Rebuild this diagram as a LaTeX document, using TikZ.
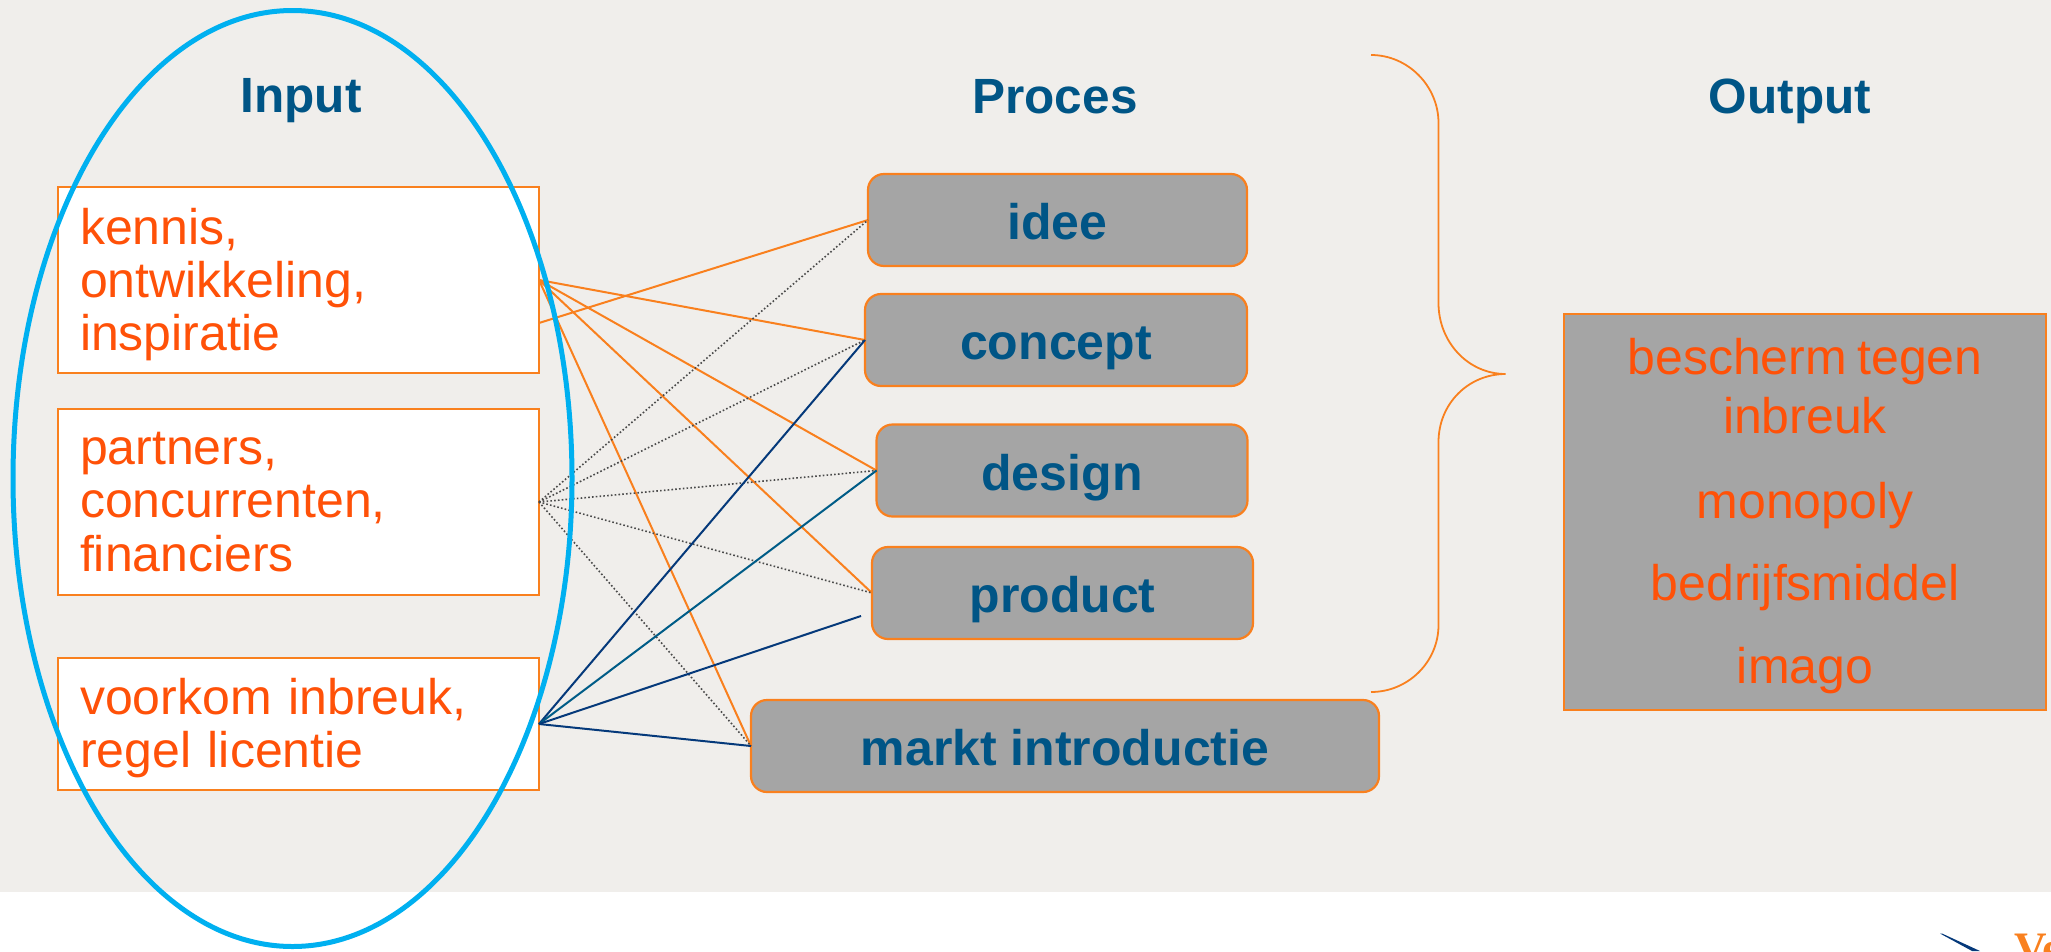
\documentclass[tikz,border=0pt]{standalone}
\usepackage{fontspec}
\usetikzlibrary{shapes.geometric}
\setmainfont{Liberation Sans}
\newfontfamily\logofont{Liberation Serif}
\definecolor{bgc}{HTML}{F0EEEB}
\definecolor{lineor}{HTML}{F9801E}
\definecolor{textor}{HTML}{FF5108}
\definecolor{titleb}{HTML}{005586}
\definecolor{navyl}{HTML}{05397A}
\definecolor{teall}{HTML}{005C87}
\definecolor{boxg}{HTML}{A5A5A5}
\definecolor{skyb}{HTML}{00B0F0}
\definecolor{dotg}{HTML}{4A4A4A}
\newcommand{\bodyfont}{\fontsize{50}{53.3}\selectfont\spaceskip=10.5pt\relax}
\newcommand{\firststrut}{\rule{0pt}{45pt}}
\tikzset{
  x=1pt,y=-1pt,
  inbox/.style={draw=lineor,line width=1.8pt,fill=white,inner sep=0pt,outer sep=0pt,text=textor,minimum width=481,align=left,text width=437,font=\bodyfont},
  procbox/.style={draw=lineor,line width=2.2pt,fill=boxg,rounded corners=16,inner sep=0pt,outer sep=0pt,text=titleb,font=\fontsize{50}{53.3}\selectfont\bfseries,minimum height=92,text height=39.5pt,text depth=0pt},
  outbox/.style={draw=lineor,line width=2pt,fill=boxg,inner sep=0pt,outer sep=0pt,text=textor,font=\bodyfont,align=center},
  titletext/.style={text=titleb,font=\fontsize{49.5}{53}\selectfont\bfseries,inner sep=0pt,anchor=base},
  orline/.style={draw=lineor,line width=2pt},
  dotline/.style={draw=dotg,line width=1.6pt,dash pattern=on 1.6pt off 2.2pt},
  navyline/.style={draw=navyl,line width=2pt},
  tealline/.style={draw=teall,line width=2pt},
}
\begin{document}
\begin{tikzpicture}
\clip (0,0) rectangle (2051,951);
\fill[white] (0,0) rectangle (2051,951);
\fill[bgc] (0,0) rectangle (2051,892);

% logo, cut off by the page edge
\node[text=lineor,font=\fontsize{45}{45}\selectfont\logofont\bfseries,inner sep=0pt,anchor=base west] (logo) at (2014,963) {Ve};
\fill[navyl] (1940,933.5) -- (1942,933.5) -- (1980,951) -- (1972,951) -- cycle;

% titles
\node[titletext] (tinput) at (301,112) {Input};
\node[titletext] (tproces) at (1055,113) {Proces};
\node[titletext] (toutput) at (1790,113) {Output};

% input boxes
\node[inbox,minimum height=186] (in1) at (298.5,280) {\firststrut kennis,\\ontwikkeling,\\inspiratie};
\node[inbox,minimum height=186] (in2) at (298.5,502) {partners,\\concurrenten,\\financiers};
\node[inbox,minimum height=132] (in3) at (298.5,724) {\firststrut voorkom inbreuk,\\regel licentie};

% process boxes
\node[procbox,minimum width=379] (idee) at (1057.5,220) {idee};
\node[procbox,minimum width=382] (concept) at (1056,340) {concept};
\node[procbox,minimum width=371] (design) at (1062,470.5) {design};
\node[procbox,minimum width=381] (product) at (1062.5,593) {product};
\node[procbox,minimum width=628] (markt) at (1065,746) {markt introductie};

% output box
\node[outbox,minimum width=482,minimum height=396] (out) at (1805,512) {\firststrut bescherm tegen\\[5.5pt]inbreuk\\[31.5pt]monopoly\\[29pt]bedrijfsmiddel\\[30pt]imago};

% free ends
\coordinate (in1low) at (539,323);
\coordinate (prodfree) at (861,616);

% connectors
\draw[orline] (in1low) -- (idee.west);
\draw[orline] (in1.east) -- (concept.west);
\draw[orline] (in1.east) -- (design.west);
\draw[orline] (in1.east) -- (product.west);
\draw[orline] (in1.east) -- (markt.west);
\draw[dotline] (in2.east) -- (idee.west);
\draw[dotline] (in2.east) -- (concept.west);
\draw[dotline] (in2.east) -- (design.west);
\draw[dotline] (in2.east) -- (product.west);
\draw[dotline] (in2.east) -- (markt.west);
\draw[navyline] (in3.east) -- (concept.west);
\draw[tealline] (in3.east) -- (design.west);
\draw[navyline] (in3.east) -- (prodfree);
\draw[navyline] (in3.east) -- (markt.west);

% brace
\draw[lineor,line width=1.8pt] (1371,55) .. controls (1408,55) and (1438.5,86) .. (1438.5,123) -- (1438.5,303) .. controls (1438.5,342) and (1468,374) .. (1505.7,374) .. controls (1468,374) and (1438.5,404) .. (1438.5,442) -- (1438.5,625) .. controls (1438.5,662) and (1408,692) .. (1371,692);

% ellipse
\node[draw=skyb,line width=5pt,ellipse,minimum width=559,minimum height=936,inner sep=0pt,outer sep=0pt] (ring) at (292.5,478.5) {};
\end{tikzpicture}
\end{document}
